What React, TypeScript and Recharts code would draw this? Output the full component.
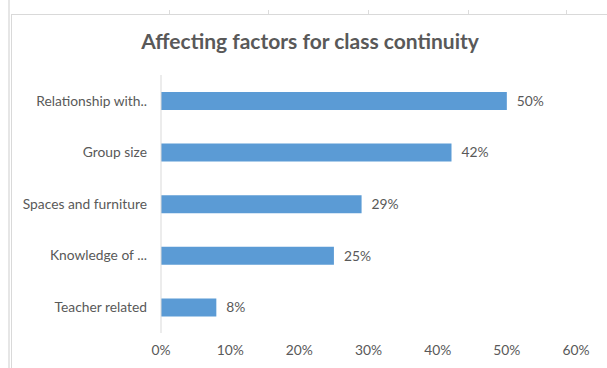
import React from "react";
import {
  BarChart,
  Bar,
  XAxis,
  YAxis,
  LabelList,
} from "recharts";

const categories = [
  "Relationship with..",
  "Group size",
  "Spaces and furniture",
  "Knowledge of ...",
  "Teacher related",
];
const shares = [0.5, 0.42, 0.29, 0.25, 0.08];
const xTicks = [0, 0.1, 0.2, 0.3, 0.4, 0.5, 0.6];

const data = categories.map((name, i) => ({ name, value: shares[i] }));

const FONT = "Lato, 'Open Sans', sans-serif";
const GREY = "#595959";
const LABEL_SIZE = 13.8;

const pct = (v: number) => `${Math.round(v * 100)}%`;

const App = () => {
  return (
    <div
      style={{
        position: "absolute",
        left: 0,
        top: 0,
        width: 607,
        height: 368,
        background: "#fff",
        overflow: "hidden",
        fontFamily: FONT,
      }}
    >
      {/* spreadsheet cell lines around the chart */}
      <div style={{ position: "absolute", left: 8, top: 0, width: 2, height: 368, background: "#e6e6e6" }} />
      {[169, 268, 368, 468, 566].map((x) => (
        <div key={x} style={{ position: "absolute", left: x, top: 10, width: 1, height: 4, background: "#dcdcdc" }} />
      ))}
      {/* chart border */}
      <div
        style={{
          position: "absolute",
          left: 11,
          top: 14,
          width: 620,
          height: 400,
          borderLeft: "1px solid #d9d9d9",
          borderTop: "1px solid #d9d9d9",
        }}
      />
      <div
        style={{
          position: "absolute",
          left: 0,
          top: 28,
          width: 620,
          textAlign: "center",
          fontSize: 21,
          fontWeight: 700,
          color: GREY,
        }}
      >
        Affecting factors for class continuity
      </div>
      <div style={{ position: "absolute", left: 0, top: 0 }}>
        <BarChart
          width={607}
          height={368}
          data={data}
          layout="vertical"
          margin={{ top: 75, right: 31, left: 11, bottom: 5 }}
          barSize={18}
        >
          <XAxis
            type="number"
            domain={[0, 0.6]}
            ticks={xTicks}
            tickFormatter={pct}
            axisLine={false}
            tickLine={false}
            tickSize={0}
            tickMargin={12}
            height={30}
            tick={{ fill: GREY, fontSize: LABEL_SIZE, fontFamily: FONT }}
          />
          <YAxis
            type="category"
            dataKey="name"
            width={150}
            axisLine={{ stroke: "#d9d9d9" }}
            tickLine={false}
            tickSize={0}
            tickMargin={14}
            tick={{ fill: GREY, fontSize: LABEL_SIZE, fontFamily: FONT }}
          />
          <Bar dataKey="value" fill="#5b9bd5" isAnimationActive={false}>
            <LabelList
              dataKey="value"
              position="right"
              offset={10}
              formatter={(v: any) => pct(Number(v))}
              style={{ fill: GREY, fontSize: LABEL_SIZE, fontFamily: FONT }}
            />
          </Bar>
        </BarChart>
      </div>
    </div>
  );
};

export default App;
